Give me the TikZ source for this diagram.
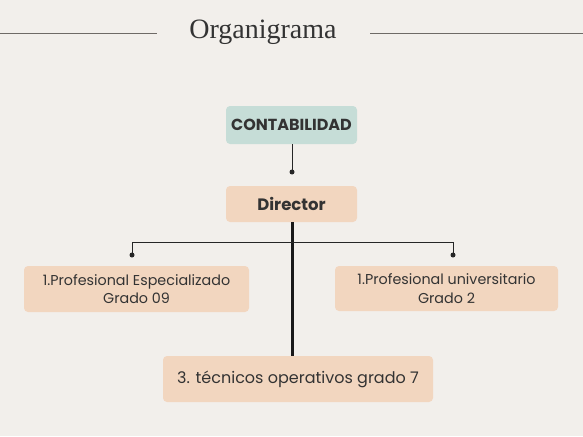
\documentclass[tikz,border=0pt]{standalone}
\usepackage{fontspec}
\setmainfont{Liberation Serif}
\newfontfamily\boxfont{Poppins}
\newfontfamily\headfont{Poppins}
\definecolor{bg}{HTML}{F2EFEB}
\definecolor{teal}{HTML}{C6DDD7}
\definecolor{peach}{HTML}{F2D6BF}
\definecolor{ink}{HTML}{333333}
\definecolor{rule}{HTML}{6E6A66}
\begin{document}
\begin{tikzpicture}[x=1pt,y=-1pt,
  boxbase/.style={rounded corners=4pt, inner sep=0pt, text=ink, align=center},
  headbox/.style={boxbase, font=\headfont\bfseries\fontsize{16}{18}\selectfont},
  bodybox/.style={boxbase, fill=peach, font=\boxfont\fontsize{14.3}{18.5}\selectfont},
  thin/.style={draw=black!85, line width=1pt},
  thick/.style={draw=black!90, line width=3pt},
  dotend/.style={fill=black!85, circle, inner sep=0pt, minimum size=5pt}]
\fill[bg] (0,0) rectangle (583,436);
\useasboundingbox (0,0) rectangle (583,436);
% title
\node[font=\fontsize{28}{32}\selectfont, text=ink] (title) at (263,32) {Organigrama};
\coordinate (tl1) at (0,34); \coordinate (tl2) at (157,34);
\coordinate (tr1) at (370,34); \coordinate (tr2) at (583,34);
\draw[rule, line width=1pt] (tl1) -- (tl2);
\draw[rule, line width=1pt] (tr1) -- (tr2);
% boxes
\node[headbox, fill=teal, minimum width=131pt, minimum height=38pt] (cont) at (291.5,125) {CONTABILIDAD};
\node[headbox, fill=peach, minimum width=131pt, minimum height=36pt, font=\headfont\bfseries\fontsize{16.5}{18}\selectfont] (dir) at (291.5,204) {Director};
\node[bodybox, minimum width=225pt, minimum height=46pt] (left) at (136.5,289) {1.Profesional Especializado\\Grado 09};
\node[bodybox, minimum width=223pt, minimum height=45pt] (right) at (446.5,288.5) {1.Profesional universitario\\Grado 2};
\node[bodybox, minimum width=270pt, minimum height=46pt, font=\boxfont\fontsize{16}{18}\selectfont] (tec) at (298,379) {3. técnicos operativos grado 7};
% connectors
\node[dotend] (d1) at (292,172) {};
\draw[thin] (cont.south -| d1) -- (d1.center);
\draw[thick] (dir.south -| d1) -- (tec.north -| d1);
\coordinate (hl) at (132,242);
\coordinate (hr) at (453,242);
\node[dotend] (d2) at (132,255) {};
\node[dotend] (d3) at (453,255) {};
\draw[thin] (d2.center) -- (hl) -- (hr) -- (d3.center);
\end{tikzpicture}
\end{document}
